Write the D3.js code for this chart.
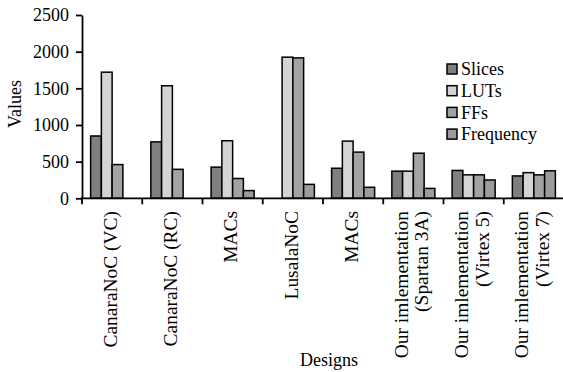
<!DOCTYPE html>
<html><head><meta charset="utf-8">
<script src="https://cdn.jsdelivr.net/npm/d3@7"></script>
<style>
body{margin:0;background:#fff;}
text{font-family:"Liberation Serif","Times New Roman",serif;fill:#000;}
</style></head>
<body><svg id="c" width="563" height="372"></svg>
<script>
const categories = [
  ["CanaraNoC (VC)"],
  ["CanaraNoC (RC)"],
  ["MACs"],
  ["LusalaNoC"],
  ["MACs"],
  ["Our imlementation","(Spartan 3A)"],
  ["Our imlementation","(Virtex 5)"],
  ["Our imlementation","(Virtex 7)"]
];
const seriesNames = ["Slices","LUTs","FFs","Frequency"];
const slices    = [850, 770, 425, null, 410, 370, 380, 305];
const luts      = [1720, 1535, 785, 1925, 780, 370, 320, 350];
const ffs       = [460, 395, 270, 1915, 630, 615, 320, 320];
const frequency = [null, null, 105, 190, 150, 135, 250, 375];
const yTicks = [0, 500, 1000, 1500, 2000, 2500];
const colors = ["#7f7f7f","#d4d4d4","#a3a3a3","#9c9c9c"];

const seriesValues = [slices, luts, ffs, frequency];
const svg = d3.select("#c");
const mLeft = 82, mRight = 564, mTop = 15, mBottom = 198.3;
const ids = categories.map((c,i)=>i);
const x0 = d3.scaleBand().domain(ids).range([mLeft, mRight]).padding(0);
const x1 = d3.scaleBand().domain(seriesNames).range([0, x0.bandwidth()]).paddingInner(0).paddingOuter(0.8);
const y = d3.scaleLinear().domain([0, 2500]).range([mBottom, mTop]);

// bars
ids.forEach(i=>{
  const g = svg.append("g").attr("transform",`translate(${x0(i)},0)`);
  seriesNames.forEach((s,k)=>{
    const v = seriesValues[k][i];
    if (v == null) return;
    g.append("rect")
      .attr("x", x1(s)).attr("width", x1.bandwidth())
      .attr("y", y(v)).attr("height", y(0)-y(v))
      .attr("fill", colors[k]).attr("stroke","#000").attr("stroke-width",1.5);
  });
});

// y axis
const ya = svg.append("g").attr("transform",`translate(${mLeft},0)`)
  .call(d3.axisLeft(y).tickValues(yTicks).tickSize(6).tickSizeOuter(0).tickPadding(7).tickFormat(d3.format("d")));
ya.selectAll("text").style("font-size","18px").style("font-family","Liberation Serif");
ya.selectAll("line,path").attr("stroke","#000").attr("stroke-width",1.8);

// x axis
svg.append("line").attr("x1",mLeft-1).attr("x2",mRight).attr("y1",mBottom).attr("y2",mBottom)
  .attr("stroke","#000").attr("stroke-width",1.8);
svg.selectAll(".xt").data(ids).enter().append("line")
  .attr("x1",d=>x0(d)).attr("x2",d=>x0(d)).attr("y1",mBottom).attr("y2",mBottom+6)
  .attr("stroke","#000").attr("stroke-width",1.8);

// x labels
ids.forEach(i=>{
  const lines = categories[i];
  const cx = x0(i) + x0.bandwidth()/2;
  const lh = 20.5;
  lines.forEach((t,j)=>{
    const off = (j - (lines.length-1)/2)*lh;
    svg.append("text")
      .attr("transform",`translate(${cx+off-1.5},211) rotate(-90) scale(1.08,1)`)
      .attr("text-anchor","end").attr("dy","0.35em")
      .style("font-size","18px").text(t);
  });
});

// axis titles
svg.append("text").attr("transform","translate(15,104) rotate(-90)")
  .attr("text-anchor","middle").attr("dy","0.35em").style("font-size","18px").text("Values");
svg.append("text").attr("x",329).attr("y",366).attr("text-anchor","middle")
  .style("font-size","18px").text("Designs");

// legend
const lg = svg.append("g");
seriesNames.forEach((s,k)=>{
  const cy = 69 + k*21.7;
  lg.append("rect").attr("x",447).attr("y",cy-5).attr("width",10).attr("height",10)
    .attr("fill",colors[k]).attr("stroke","#000").attr("stroke-width",1.5);
  lg.append("text").attr("x",461).attr("y",cy).attr("dy","0.35em").style("font-size","18px").text(s);
});
</script></body></html>
